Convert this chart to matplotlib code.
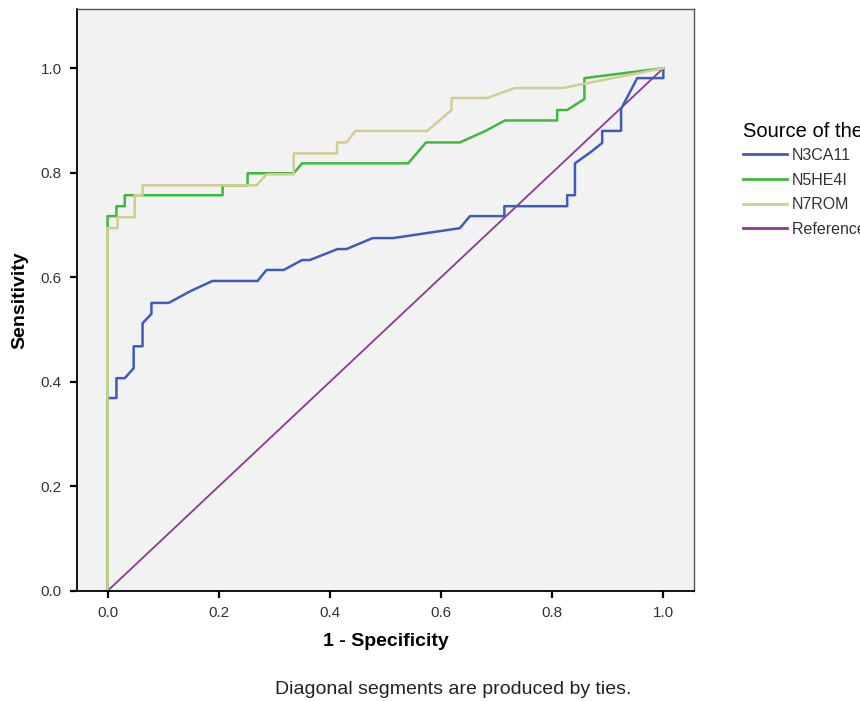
import matplotlib.pyplot as plt
from matplotlib.lines import Line2D

plt.rcParams['font.family'] = ['Liberation Sans', 'DejaVu Sans']

# ROC curves (1 - specificity, sensitivity)
n3ca_x = [0.0, 0.0, 0.016, 0.016, 0.031, 0.047, 0.047, 0.063, 0.063, 0.079, 0.079, 0.110,
          0.150, 0.189, 0.270, 0.286, 0.317, 0.350, 0.364, 0.414, 0.430, 0.477, 0.514,
          0.634, 0.652, 0.714, 0.714, 0.827, 0.827, 0.841, 0.841, 0.870, 0.890, 0.890,
          0.924, 0.924, 0.953, 1.0, 1.0]
n3ca_y = [0.0, 0.369, 0.369, 0.407, 0.407, 0.426, 0.468, 0.468, 0.512, 0.530, 0.551, 0.551,
          0.574, 0.593, 0.593, 0.614, 0.614, 0.633, 0.633, 0.654, 0.654, 0.675, 0.675,
          0.694, 0.717, 0.717, 0.736, 0.736, 0.757, 0.757, 0.818, 0.840, 0.857, 0.880,
          0.880, 0.922, 0.981, 0.981, 1.0]

n5he_x = [0.0, 0.0, 0.016, 0.016, 0.031, 0.031, 0.207, 0.207, 0.252, 0.252, 0.335, 0.350,
          0.541, 0.573, 0.634, 0.680, 0.715, 0.809, 0.809, 0.827, 0.858, 0.858, 1.0]
n5he_y = [0.0, 0.717, 0.717, 0.736, 0.736, 0.757, 0.757, 0.776, 0.776, 0.799, 0.799, 0.818,
          0.818, 0.858, 0.858, 0.880, 0.900, 0.900, 0.920, 0.920, 0.941, 0.981, 1.0]

n7rom_x = [0.0, 0.0, 0.018, 0.018, 0.049, 0.049, 0.063, 0.063, 0.268, 0.286, 0.335, 0.335,
           0.413, 0.413, 0.430, 0.446, 0.575, 0.619, 0.619, 0.683, 0.733, 0.818, 1.0]
n7rom_y = [0.0, 0.694, 0.694, 0.715, 0.715, 0.757, 0.757, 0.776, 0.776, 0.797, 0.797, 0.837,
           0.837, 0.858, 0.858, 0.880, 0.880, 0.920, 0.943, 0.943, 0.962, 0.962, 1.0]

ref_x = [0.0, 1.0]
ref_y = [0.0, 1.0]

names = ['N3CA11', 'N5HE4I', 'N7ROM', 'Reference Line']
colors = ['#3f5cb8', '#3cba3c', '#d3cd93', '#8b3a8f']
ticks = [0.0, 0.2, 0.4, 0.6, 0.8, 1.0]

fig = plt.figure(figsize=(8.6, 7.01), dpi=100)
ax = fig.add_axes([0.0895, 0.157, 0.718, 0.830])
ax.set_facecolor('#f2f2f2')

ax.plot(ref_x, ref_y, color=colors[3], lw=1.3)
ax.plot(n3ca_x, n3ca_y, color=colors[0], lw=1.8)
ax.plot(n5he_x, n5he_y, color=colors[1], lw=1.8)
ax.plot(n7rom_x, n7rom_y, color=colors[2], lw=1.8)

ax.set_xlim(-0.055, 1.056)
ax.set_ylim(0, 1.113)
ax.set_xticks(ticks)
ax.set_yticks(ticks)
ax.set_xticklabels(['%.1f' % t for t in ticks])
ax.set_yticklabels(['%.1f' % t for t in ticks])
ax.tick_params(direction='out', length=5, width=1.6, labelsize=11, colors='black',
               labelcolor='#333333', pad=6)
for s in ['left', 'bottom']:
    ax.spines[s].set_color('black')
    ax.spines[s].set_linewidth(1.3)
for s in ['top', 'right']:
    ax.spines[s].set_color('#555555')
    ax.spines[s].set_linewidth(1.0)

ax.set_xlabel('1 - Specificity', fontsize=14, fontweight='bold', labelpad=9)
ax.set_ylabel('Sensitivity', fontsize=14, fontweight='bold', labelpad=9)

fig.text(0.527, 0.004, 'Diagonal segments are produced by ties.', fontsize=14,
         ha='center', va='bottom', color='#222222')

handles = [Line2D([], [], color=c, lw=2) for c in colors]
leg = fig.legend(handles, names, title='Source of the Curve', loc='upper left',
                 bbox_to_anchor=(0.856, 0.835), frameon=False, fontsize=11.5,
                 title_fontsize=14.5, handlelength=2.8, handletextpad=0.3,
                 labelspacing=0.6, alignment='left', borderaxespad=0)
leg._legend_box.sep = 5
for t in leg.get_texts():
    t.set_color('#333333')

fig.savefig('out.png', dpi=100)
